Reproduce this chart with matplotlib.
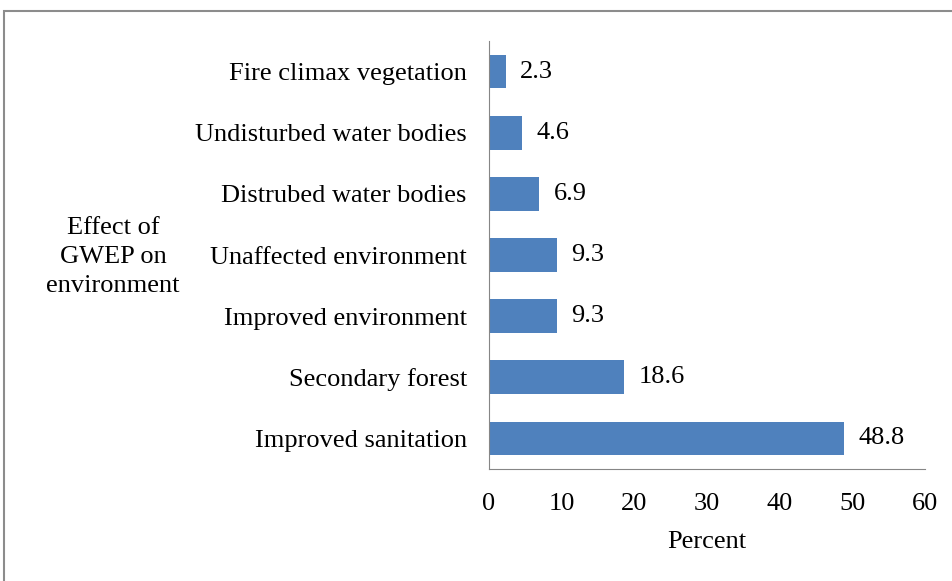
import matplotlib
matplotlib.use("Agg")
import matplotlib.pyplot as plt
from matplotlib.patches import Rectangle

categories = ["Improved sanitation", "Secondary forest", "Improved environment",
              "Unaffected environment", "Distrubed water bodies",
              "Undisturbed water bodies", "Fire climax vegetation"]
values = [48.8, 18.6, 9.3, 9.3, 6.9, 4.6, 2.3]
xticks = [0, 10, 20, 30, 40, 50, 60]

plt.rcParams['font.family'] = ['Liberation Serif', 'DejaVu Serif']
FS = 19
W, H = 953, 581
fig = plt.figure(figsize=(W/100, H/100), dpi=100)
fig.patches.append(Rectangle((4/W, -0.1), 1.0, 1.1 - 11/H, transform=fig.transFigure,
                             fill=False, edgecolor='#8c8c8c', linewidth=1.5))
ax = fig.add_axes([489/W, 1 - 469/H, (925-489)/W, (469-41)/H])
y = list(range(len(categories)))
ax.barh(y, values, height=0.55, color='#4f81bd')
for yi, v in zip(y, values):
    ax.text(v + 2.0, yi, f"{v}", va='center', ha='left', fontsize=FS)
ax.set_xlim(0, 60)
ax.set_ylim(-0.5, 6.5)
ax.set_xticks(xticks)
ax.set_xticklabels([str(t) for t in xticks], fontsize=FS)
ax.set_yticks(y)
ax.set_yticklabels(categories, fontsize=FS)
ax.tick_params(length=0, axis='y', pad=16)
ax.tick_params(length=0, axis='x', pad=17)
for s in ['top', 'right']:
    ax.spines[s].set_visible(False)
ax.spines['left'].set_color('#868686')
ax.spines['bottom'].set_color('#868686')
ax.set_xlabel("Percent", fontsize=FS, labelpad=12)
fig.text(113/W, 1 - 257/H, "Effect of\nGWEP on\nenvironment", ha='center', va='center',
         fontsize=FS, linespacing=1.42)
fig.savefig("out.png", dpi=100)
